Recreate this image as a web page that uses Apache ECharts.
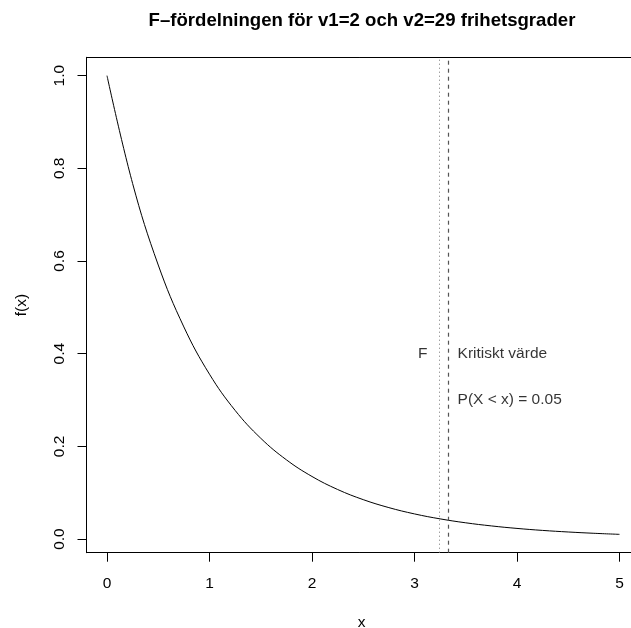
<!DOCTYPE html>
<html>
<head>
<meta charset="utf-8">
<script src="https://cdn.jsdelivr.net/npm/echarts@6/dist/echarts.min.js"></script>
<style>
html,body{margin:0;padding:0;background:#fff;overflow:hidden;}
#chart{width:631px;height:628px;}
</style>
</head>
<body>
<div id="chart"></div>
<script>
// Data (F density, v1=2, v2=29)
const xValues = [0, 0.25, 0.5, 0.75, 1, 1.25, 1.5, 1.75, 2, 2.25, 2.5, 2.75, 3, 3.25, 3.5, 3.75, 4, 4.25, 4.5, 4.75, 5];
const fValues = [1.0, 0.7672, 0.5913, 0.4577, 0.3557, 0.2776, 0.2175, 0.1710, 0.1350, 0.1069, 0.0850, 0.0678, 0.0542, 0.0435, 0.0350, 0.0283, 0.0229, 0.0186, 0.0152, 0.0124, 0.0101];
const xTicks = [0, 1, 2, 3, 4, 5];
const yTicks = [0.0, 0.2, 0.4, 0.6, 0.8, 1.0];
const fObserved = 3.24;      // dotted line: observed F
const fCritical = 3.328;     // dashed line: critical value
const annotations = [
  { x: 3.08, y: 0.4, text: 'F', align: 'center' },
  { x: 3.42, y: 0.4, text: 'Kritiskt värde', align: 'left' },
  { x: 3.42, y: 0.3, text: 'P(X < x) = 0.05', align: 'left' }
];
const titleText = 'F\u2013fördelningen för v1=2 och v2=29 frihetsgrader';
const xName = 'x';
const yName = 'f(x)';

const FONT = 'Liberation Sans, Arial, Helvetica, sans-serif';
const FS = 15.5;
const X_MIN = -0.2, X_MAX = 5.166, Y_MIN = -0.0295, Y_MAX = 1.0396;

const chart = echarts.init(document.getElementById('chart'), null, { renderer: 'canvas' });

const curve = xValues.map((x, i) => [x, fValues[i]]);
const frameLine = { show: true, onZero: false, lineStyle: { color: '#000', width: 1 } };

chart.setOption({
  animation: false,
  backgroundColor: '#fff',
  title: {
    text: titleText,
    left: 357, top: 6,
    textAlign: 'center',
    textStyle: { fontFamily: FONT, fontSize: 18.6, fontWeight: 'bold', color: '#000' }
  },
  grid: {
    left: 86.5, top: 57.3, width: 550, height: 495.4,
    outerBoundsMode: 'none',
    show: false,
    containLabel: false
  },
  xAxis: [
    {
      type: 'value', min: X_MIN, max: X_MAX, position: 'bottom',
      name: xName, nameLocation: 'middle', nameGap: 62,
      nameTextStyle: { fontFamily: FONT, fontSize: FS, color: '#000' },
      axisLine: frameLine,
      splitLine: { show: false },
      axisTick: { show: true, inside: false, length: 9, customValues: xTicks, lineStyle: { color: '#000', width: 1 } },
      axisLabel: { customValues: xTicks, fontFamily: FONT, fontSize: FS, color: '#000', margin: 23,
        formatter: v => String(v) }
    },
    {
      type: 'value', min: X_MIN, max: X_MAX, position: 'top',
      axisLine: frameLine,
      splitLine: { show: false }, axisTick: { show: false }, axisLabel: { show: false }
    }
  ],
  yAxis: {
    type: 'value', min: Y_MIN, max: Y_MAX,
    name: yName, nameLocation: 'middle', nameGap: 57,
    nameTextStyle: { fontFamily: FONT, fontSize: FS, color: '#000' },
    axisLine: frameLine,
    splitLine: { show: false },
    axisTick: { show: true, inside: false, length: 9, customValues: yTicks, lineStyle: { color: '#000', width: 1 } },
    axisLabel: { customValues: yTicks, rotate: 90, fontFamily: FONT, fontSize: FS, color: '#000', margin: 19,
      formatter: v => v.toFixed(1) }
  },
  series: [
    {
      type: 'line', data: curve, smooth: 0.4, showSymbol: false, symbol: 'none',
      lineStyle: { color: '#000', width: 1 },
      markLine: {
        silent: true, symbol: 'none', label: { show: false },
        data: [
          { xAxis: fObserved, lineStyle: { color: '#777', width: 1, type: [1, 3] } },
          { xAxis: fCritical, lineStyle: { color: '#555', width: 1.2, type: [4, 4] } }
        ]
      }
    },
    {
      type: 'scatter', symbolSize: 0,
      data: annotations.map(a => ({
        value: [a.x, a.y],
        label: {
          show: true, formatter: a.text, position: 'inside', align: a.align,
          verticalAlign: 'middle', fontFamily: FONT, fontSize: FS, color: '#000'
        }
      }))
    }
  ]
});
</script>
</body>
</html>
